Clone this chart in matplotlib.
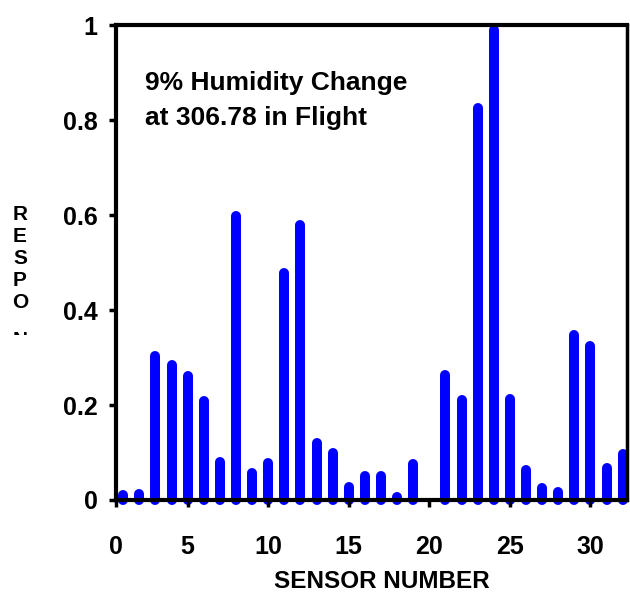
import matplotlib.pyplot as plt
from matplotlib.patches import Rectangle

plt.rcParams['font.family'] = ['Liberation Sans', 'DejaVu Sans']
plt.rcParams['font.weight'] = 'bold'

# sensor numbers and normalised response
sensors = list(range(1, 33))
response = [0.020, 0.023, 0.314, 0.294, 0.271, 0.220, 0.090, 0.610,
            0.068, 0.089, 0.488, 0.590, 0.130, 0.109, 0.038, 0.060,
            0.060, 0.017, 0.087, 0.000, 0.274, 0.222, 0.837, 1.000,
            0.224, 0.074, 0.035, 0.028, 0.359, 0.336, 0.077, 0.108]

xtick_pos = [0.55, 5, 10, 15, 20, 25, 30]
xtick_lab = ['0', '5', '10', '15', '20', '25', '30']
ytick_pos = [0, 0.2, 0.4, 0.6, 0.8, 1]
ytick_lab = ['0', '0.2', '0.4', '0.6', '0.8', '1']

fig = plt.figure(figsize=(6.3, 5.93), dpi=100)
ax = fig.add_axes([0.184, 0.157, 0.812, 0.800])
ax.set_xlim(0.55, 32.3)
ax.set_ylim(0, 1)

# bars are thick round-capped strokes, top of cap = value
lw_px = 10
cap = (lw_px / 2) / (0.800 * 593)
for s, v in zip(sensors, response):
    if v <= 0:
        continue
    ax.plot([s, s], [0, max(v - cap, 0)], color='#0000ff', lw=lw_px * 0.72,
            solid_capstyle='round', zorder=1, clip_on=False)

for side in ['left', 'bottom', 'top', 'right']:
    ax.spines[side].set_linewidth(3)
    ax.spines[side].set_zorder(3)
ax.spines['right'].set_linewidth(2.5)

ax.set_xticks(xtick_pos)
ax.set_xticklabels(xtick_lab)
ax.set_yticks(ytick_pos)
ax.set_yticklabels(ytick_lab)
ax.tick_params(direction='out', length=5, width=2.5, labelsize=18, pad=8)
ax.tick_params(axis='x', pad=20)

ax.set_xlabel('SENSOR NUMBER', fontsize=17.5, fontweight='bold')
ax.xaxis.set_label_coords(0.52, -0.147)

ax.text(2.35, 0.905, '9% Humidity Change\nat 306.78 in Flight', fontsize=19,
        fontweight='bold', va='top', ha='left', linespacing=1.6)

# truncated stacked y label
fig.text(20 / 630, 1 - 205 / 593, 'R\nE\nS\nP\nO', fontsize=15, fontweight='bold',
         ha='center', va='top', linespacing=1.2)
clip = Rectangle((0, 1 - 335 / 593), 1, 4 / 593, transform=fig.transFigure)
n = fig.text(20 / 630, 1 - 331 / 593, 'N', fontsize=15, fontweight='bold',
             ha='center', va='top')
n.set_clip_path(clip)

fig.savefig('out.png', dpi=100)
